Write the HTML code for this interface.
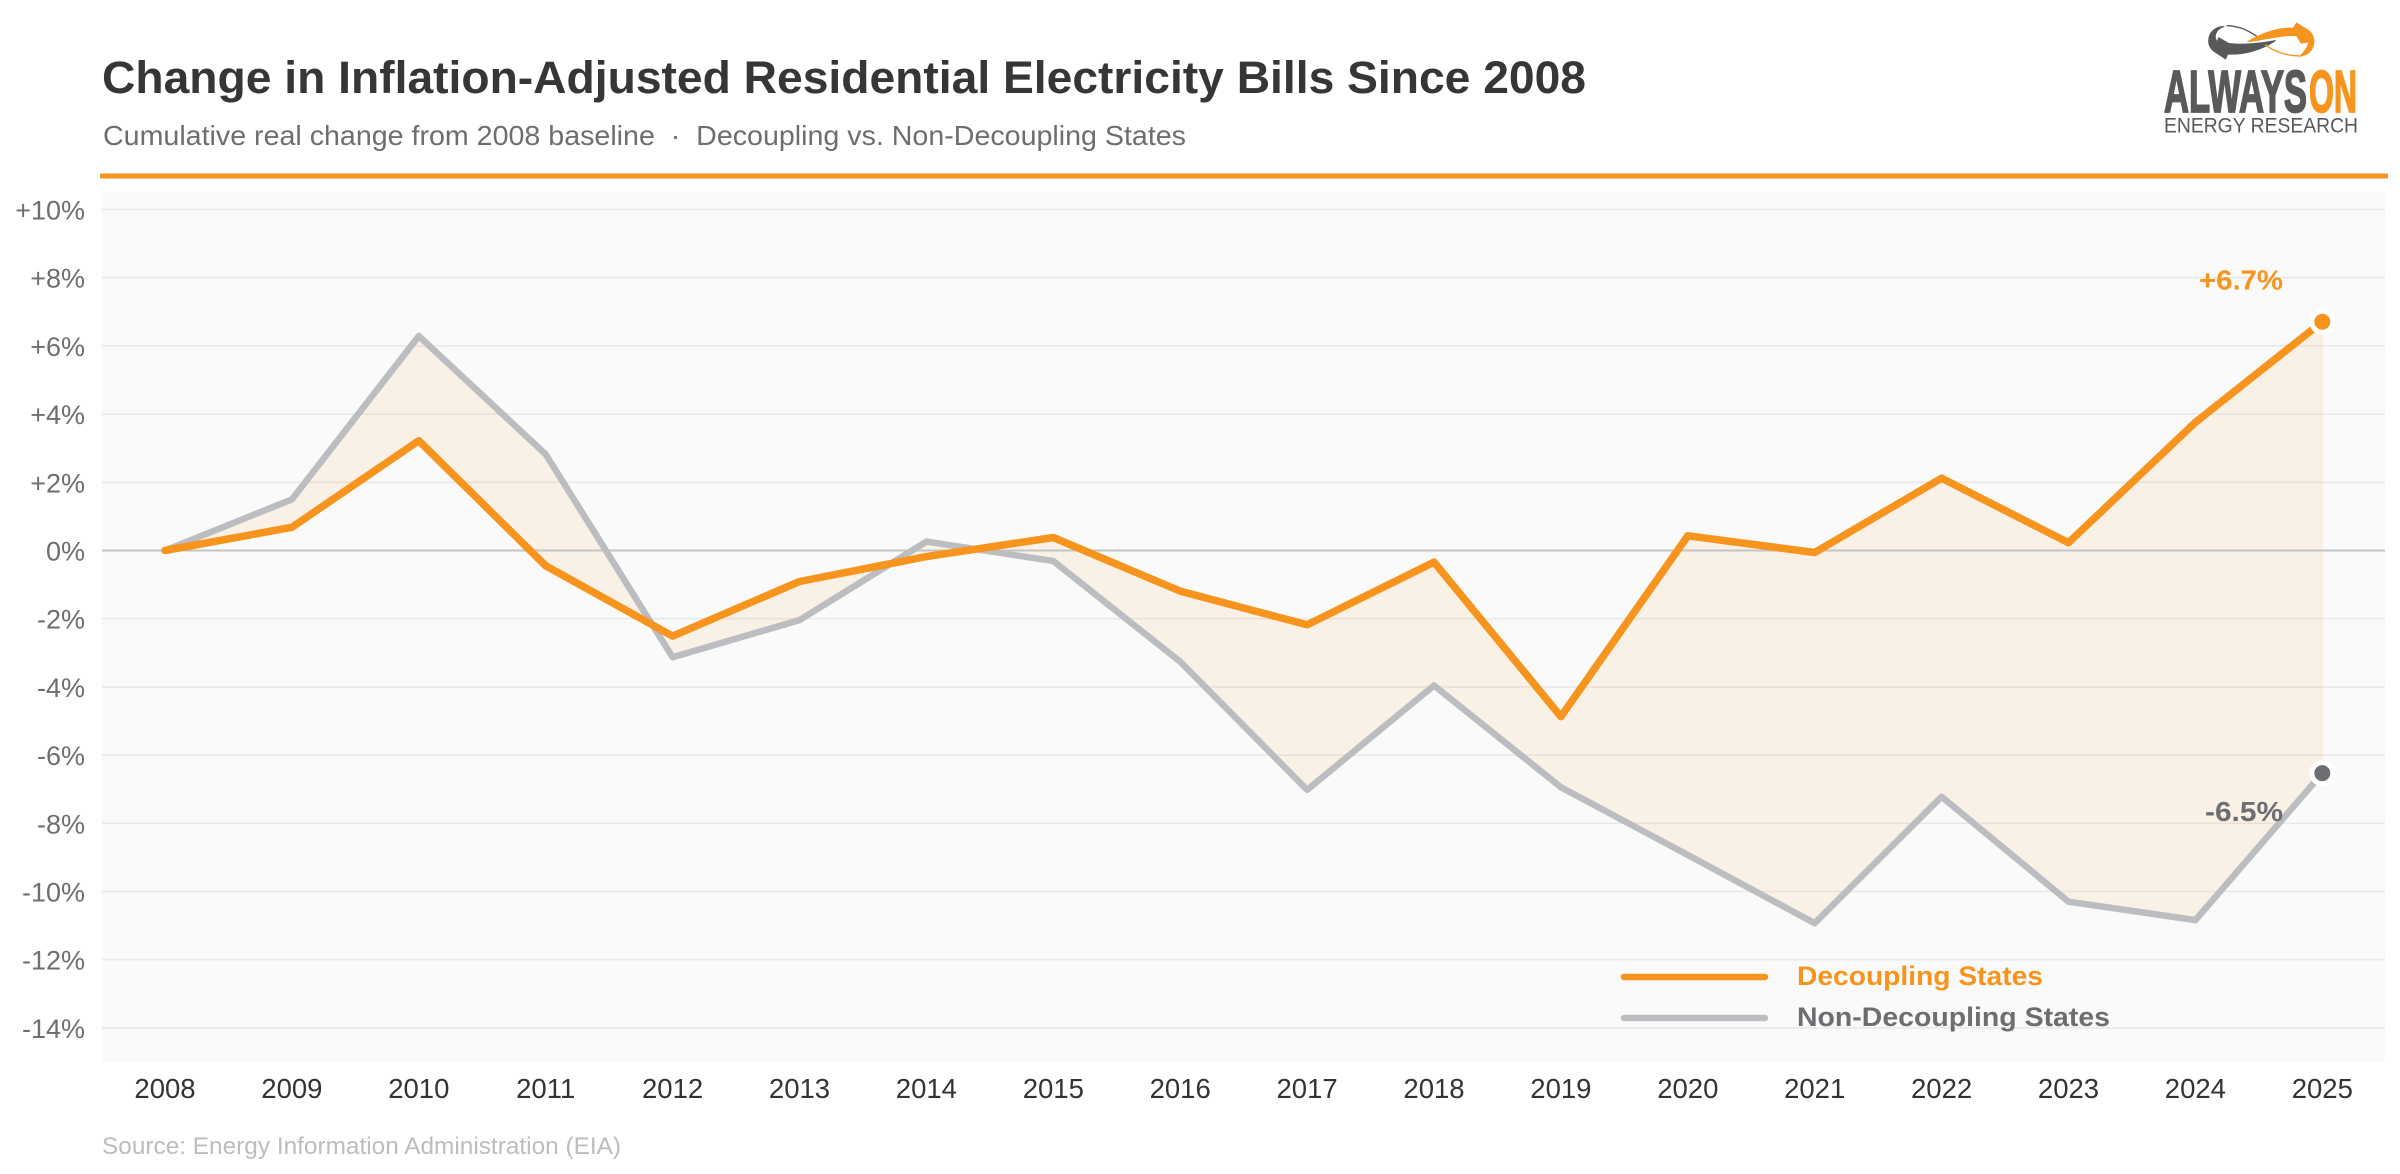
<!DOCTYPE html>
<html lang="en">
<head>
<meta charset="utf-8">
<title>Change in Inflation-Adjusted Residential Electricity Bills Since 2008</title>
<style>
html,body{margin:0;padding:0;background:#fff;width:2400px;height:1174px;overflow:hidden}
svg{display:block}
text{font-family:"Liberation Sans",Arial,sans-serif}
</style>
</head>
<body>
<svg id="chart" xmlns="http://www.w3.org/2000/svg" width="2400" height="1174" viewBox="0 0 2400 1174">
  <rect x="0" y="0" width="2400" height="1174" fill="#ffffff"/>
  <text x="102" y="93" font-size="45" font-weight="700" fill="#363639" textLength="1484" lengthAdjust="spacingAndGlyphs">Change in Inflation-Adjusted Residential Electricity Bills Since 2008</text>
  <text x="103" y="145" font-size="27.5" fill="#6d6e71" textLength="1083" lengthAdjust="spacingAndGlyphs">Cumulative real change from 2008 baseline&#160;&#160;·&#160;&#160;Decoupling vs. Non-Decoupling States</text>

  <g>
    <g transform="translate(2080,0) scale(0.33333)">
      <path fill="#58595b" stroke="#58595b" stroke-width="3" stroke-linejoin="round" d="M432 79 C405 80 386 98 386 122 C386 138 394 149 405 156 L437 177 L443 162 C490 165 545 150 586 122 C555 128 490 137 445 130 L416 113 L412 126 C400 110 405 90 432 79 Z"/>
      <path fill="none" stroke="#58595b" stroke-width="4" d="M440 77 C480 78 505 92 532 110"/>
      <path fill="#f7941d" stroke="#f7941d" stroke-width="3" stroke-linejoin="round" d="M503 125 C545 100 590 82 640 84 L650 69 L688 93 C703 107 706 130 695 148 C688 160 675 166 660 169 C672 156 684 142 687 126 L663 129 L650 107 C600 104 550 120 503 125 Z"/>
      <path fill="none" stroke="#f7941d" stroke-width="4" d="M555 134 C585 156 620 168 662 168"/>
    </g>
    <text x="2164" y="112" font-size="59" font-weight="700" fill="#58595b" stroke="#58595b" stroke-width="1.8" textLength="143" lengthAdjust="spacingAndGlyphs">ALWAYS</text>
    <text x="2309" y="112" font-size="59" font-weight="700" fill="#f7941d" stroke="#f7941d" stroke-width="1.8" textLength="48" lengthAdjust="spacingAndGlyphs">ON</text>
    <text x="2164" y="132.5" font-size="21.5" fill="#58595b" textLength="194" lengthAdjust="spacingAndGlyphs">ENERGY RESEARCH</text>
  </g>

  <rect x="100" y="173.5" width="2288" height="5" fill="#f7941d"/>
  <rect x="102" y="192" width="2283" height="870" fill="#fafafa"/>

  <g id="grid"></g>
  <g id="ylabels"></g>
  <g id="xlabels"></g>
  <polygon id="gap" fill="#f7941d" fill-opacity="0.09" stroke="#f7941d" stroke-opacity="0.06" stroke-width="2"/>
  <line id="zero" x1="102" x2="2385" stroke="#c4c4c6" stroke-width="2"/>
  <polyline id="lineNon" fill="none" stroke="#bcbdc0" stroke-width="6.5" stroke-linejoin="round" stroke-linecap="round"/>
  <polyline id="lineDec" fill="none" stroke="#f7941d" stroke-width="7.5" stroke-linejoin="round" stroke-linecap="round"/>
  <circle id="dotDec" r="10.5" fill="#f7941d" stroke="#ffffff" stroke-width="5"/>
  <circle id="dotNon" r="10.5" fill="#6d6e71" stroke="#ffffff" stroke-width="5"/>
  <text id="labelDec" x="2283" y="290" text-anchor="end" font-size="28" font-weight="700" fill="#f7941d" textLength="84" lengthAdjust="spacingAndGlyphs"></text>
  <text id="labelNon" x="2283" y="821" text-anchor="end" font-size="28" font-weight="700" fill="#6d6e71" textLength="78" lengthAdjust="spacingAndGlyphs"></text>

  <g>
    <line x1="1624" x2="1765" y1="977" y2="977" stroke="#f7941d" stroke-width="6.5" stroke-linecap="round"/>
    <text x="1797" y="985" font-size="27" font-weight="700" fill="#f7941d" textLength="246" lengthAdjust="spacingAndGlyphs">Decoupling States</text>
    <line x1="1624" x2="1765" y1="1018" y2="1018" stroke="#bcbdc0" stroke-width="6.5" stroke-linecap="round"/>
    <text x="1797" y="1026" font-size="27" font-weight="700" fill="#6d6e71" textLength="313" lengthAdjust="spacingAndGlyphs">Non-Decoupling States</text>
  </g>

  <text x="102" y="1154" font-size="24" fill="#bcbdc0" textLength="519" lengthAdjust="spacingAndGlyphs">Source: Energy Information Administration (EIA)</text>
</svg>
<script>
const years = ['2008','2009','2010','2011','2012','2013','2014','2015','2016','2017','2018','2019','2020','2021','2022','2023','2024','2025'];
const decouplingValues = [0, 0.68, 3.22, -0.45, -2.51, -0.91, -0.18, 0.38, -1.19, -2.18, -0.34, -4.87, 0.43, -0.06, 2.12, 0.23, 3.76, 6.71];
const nonDecouplingValues = [0, 1.50, 6.29, 2.82, -3.13, -2.04, 0.26, -0.31, -3.26, -7.02, -3.96, -6.94, -8.93, -10.93, -7.22, -10.30, -10.84, -6.53];
const yTicks = [10, 8, 6, 4, 2, 0, -2, -4, -6, -8, -10, -12, -14];
const yTickLabels = ['+10%', '+8%', '+6%', '+4%', '+2%', '0%', '-2%', '-4%', '-6%', '-8%', '-10%', '-12%', '-14%'];
const endLabels = ['+6.7%', '-6.5%'];

const SVGNS = 'http://www.w3.org/2000/svg';
function xScale(i) { return 165 + i * (2322.3 - 165) / (years.length - 1); }
function yScale(v) { return 550.5 - v * 34.1; }
function pts(values) { return values.map(function (v, i) { return xScale(i).toFixed(1) + ',' + yScale(v).toFixed(1); }); }

const gridGroup = document.getElementById('grid');
const yLabelGroup = document.getElementById('ylabels');
const xLabelGroup = document.getElementById('xlabels');

yTicks.forEach(function (t, i) {
  if (t !== 0) {
    const gl = document.createElementNS(SVGNS, 'line');
    
    
    gl.setAttribute('x1', 102);
    gl.setAttribute('x2', 2385);
    gl.setAttribute('y1', yScale(t));
    gl.setAttribute('y2', yScale(t));
    gl.setAttribute('stroke', '#e9e9e9');
    gl.setAttribute('stroke-width', '1.6');
    gridGroup.appendChild(gl);
  }
  const lab = document.createElementNS(SVGNS, 'text');
  
  
  lab.setAttribute('x', 85);
  lab.setAttribute('y', yScale(t) + 10);
  lab.setAttribute('text-anchor', 'end');
  lab.setAttribute('font-size', '27');
  lab.setAttribute('fill', '#6d6e71');
  lab.textContent = yTickLabels[i];
  yLabelGroup.appendChild(lab);
});

years.forEach(function (y, i) {
  const lab = document.createElementNS(SVGNS, 'text');
  
  
  lab.setAttribute('x', xScale(i));
  lab.setAttribute('y', 1098);
  lab.setAttribute('text-anchor', 'middle');
  lab.setAttribute('font-size', '27.5');
  lab.setAttribute('fill', '#333336');
  lab.textContent = y;
  xLabelGroup.appendChild(lab);
});

const decPts = pts(decouplingValues);
const nonPts = pts(nonDecouplingValues);
document.getElementById('gap').setAttribute('points', decPts.concat(nonPts.slice().reverse()).join(' '));
document.getElementById('lineDec').setAttribute('points', decPts.join(' '));
document.getElementById('lineNon').setAttribute('points', nonPts.join(' '));
const zero = document.getElementById('zero');
zero.setAttribute('y1', yScale(0));
zero.setAttribute('y2', yScale(0));

const last = years.length - 1;
const dotDec = document.getElementById('dotDec');
dotDec.setAttribute('cx', xScale(last));
dotDec.setAttribute('cy', yScale(decouplingValues[last]));
const dotNon = document.getElementById('dotNon');
dotNon.setAttribute('cx', xScale(last));
dotNon.setAttribute('cy', yScale(nonDecouplingValues[last]));
const labelDec = document.getElementById('labelDec');
labelDec.setAttribute('y', yScale(decouplingValues[last]) - 32);
labelDec.textContent = endLabels[0];
const labelNon = document.getElementById('labelNon');
labelNon.setAttribute('y', yScale(nonDecouplingValues[last]) + 48);
labelNon.textContent = endLabels[1];
</script>
</body>
</html>
